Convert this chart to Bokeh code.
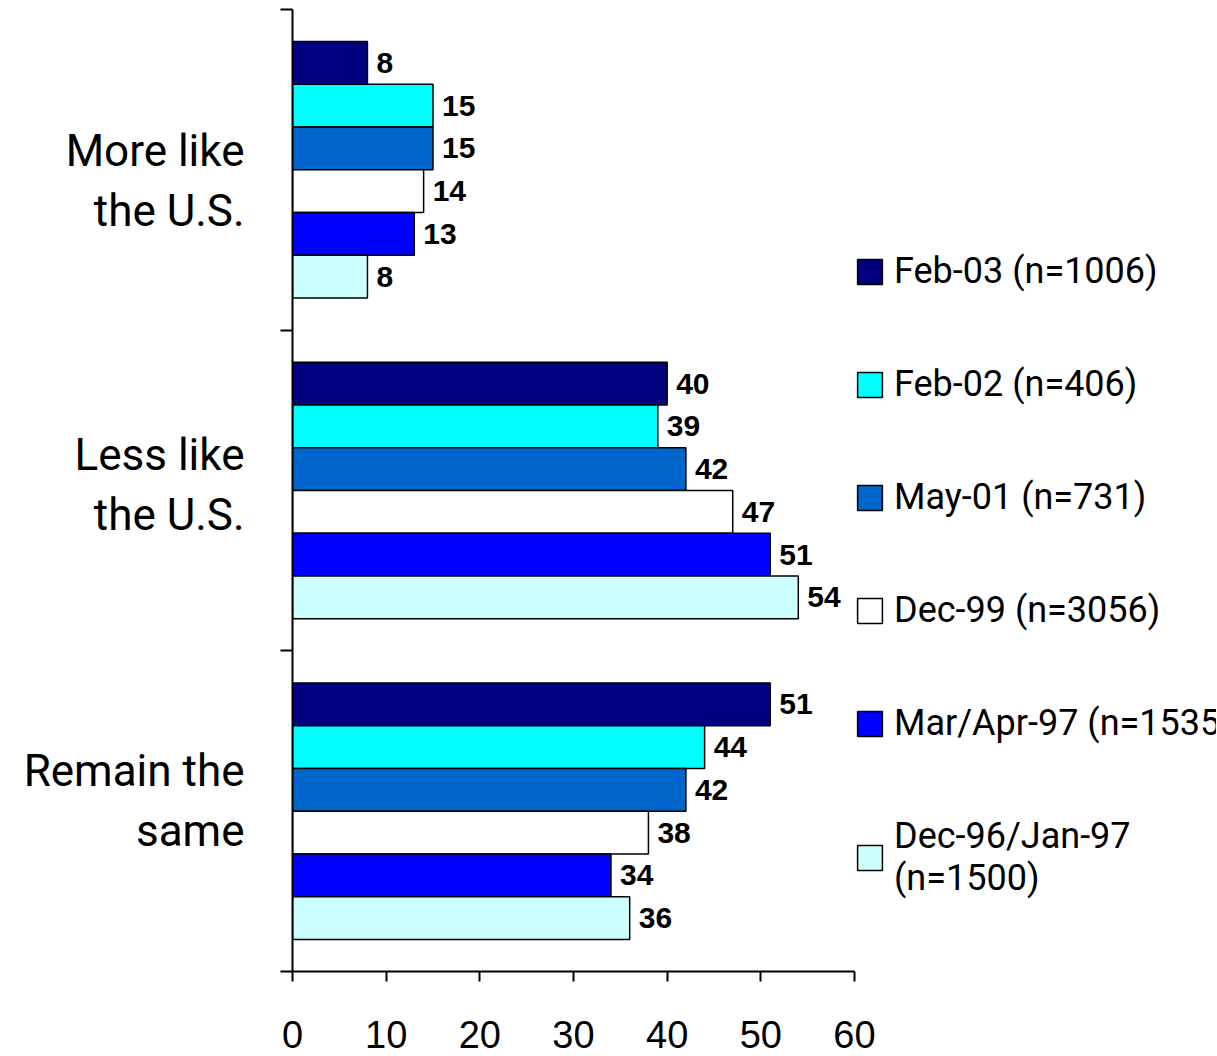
from bokeh.plotting import figure
from bokeh.models import Range1d, FixedTicker, Legend, LegendItem, ColumnDataSource
from bokeh.core.properties import value
from bokeh.embed import file_html
from bokeh.resources import INLINE

categories = ["More like\nthe U.S.", "Less like\nthe U.S.", "Remain the\nsame"]
series_names = ["Feb-03 (n=1006)", "Feb-02 (n=406)", "May-01 (n=731)",
                "Dec-99 (n=3056)", "Mar/Apr-97 (n=1535)", "Dec-96/Jan-97\n(n=1500)"]
feb03 = [8, 40, 51]
feb02 = [15, 39, 44]
may01 = [15, 42, 42]
dec99 = [14, 47, 38]
marapr97 = [13, 51, 34]
dec96jan97 = [8, 54, 36]
series_values = [feb03, feb02, may01, dec99, marapr97, dec96jan97]
colors = ["#000080", "#00FFFF", "#0066CC", "#FFFFFF", "#0000FF", "#CCFFFF"]
x_ticks = [0, 10, 20, 30, 40, 50, 60]
x_max = 60

ARIAL = "Liberation Sans"
NARROW = "Roboto"

W, H = 1216, 1055
LEFT, TOP = 292, 9
AXIS_PX = 562          # pixel length of the 0..60 axis
FRAME_H = 962
frame_w = W - LEFT
x_end = x_max * frame_w / AXIS_PX   # frame extends to the right so the legend sits inside it

# small vertical nudges of the category labels (in band units), as in the original layout
label_nudge = [0.034, -0.016, -0.031]

n_series = len(series_names)
group_frac = 0.8
bar_h = group_frac / n_series

p = figure(width=W, height=H, output_backend="svg", toolbar_location=None,
           x_range=Range1d(0, x_end), y_range=Range1d(3, 0),
           min_border_left=LEFT, min_border_right=0, min_border_top=TOP,
           min_border_bottom=H - TOP - FRAME_H)
p.outline_line_color = None
p.xgrid.visible = False
p.ygrid.visible = False
p.background_fill_color = "white"
p.border_fill_color = "white"

items = []
for j, (name, vals, col) in enumerate(zip(series_names, series_values, colors)):
    ys = [i + (1 - group_frac) / 2 + (j + 0.5) * bar_h for i in range(len(categories))]
    src = ColumnDataSource(dict(y=ys, v=vals, t=[str(v) for v in vals]))
    r = p.hbar(y="y", left=0, right="v", height=bar_h, source=src,
               fill_color=col, line_color="black", line_width=1.5)
    p.text(x="v", y="y", text="t", source=src, x_offset=9, text_baseline="middle",
           text_align="left", text_font=value(ARIAL), text_font_style="bold",
           text_font_size="30px", text_color="black")
    items.append(LegendItem(label=name, renderers=[r]))

# x axis
xa = p.xaxis[0]
xa.ticker = FixedTicker(ticks=x_ticks)
xa.bounds = (0, x_max)
xa.axis_line_width = 2
xa.major_tick_line_width = 2
xa.major_tick_out = 10
xa.major_tick_in = 0
xa.minor_tick_out = 0
xa.minor_tick_in = 0
xa.major_label_text_font = ARIAL
xa.major_label_text_font_size = "38px"
xa.major_label_standoff = 39
xa.major_label_text_color = "black"
xa.axis_line_color = "black"

# y axis
label_pos = [i + 0.5 + d for i, d in enumerate(label_nudge)]
ya = p.yaxis[0]
ya.ticker = FixedTicker(ticks=label_pos, minor_ticks=[0, 1, 2, 3])
ya.major_label_overrides = {pos: cat for pos, cat in zip(label_pos, categories)}
ya.axis_line_width = 2
ya.major_tick_out = 0
ya.major_tick_in = 0
ya.minor_tick_out = 12
ya.minor_tick_in = 0
ya.minor_tick_line_width = 2
ya.minor_tick_line_color = "black"
ya.major_label_text_font = NARROW
ya.major_label_text_font_size = "44px"
ya.major_label_text_line_height = 1.15
ya.major_label_standoff = 36
ya.major_label_text_color = "black"

legend = Legend(items=items, location=(AXIS_PX, 72), orientation="vertical",
                glyph_width=31, glyph_height=31, label_standoff=9,
                label_text_font=NARROW, label_text_font_size="36px",
                label_text_line_height=1.3,
                label_text_color="black", spacing=71, padding=0, margin=0,
                border_line_color=None, background_fill_alpha=0)
p.add_layout(legend, "center")

open("out.html", "w").write(file_html(p, INLINE))
